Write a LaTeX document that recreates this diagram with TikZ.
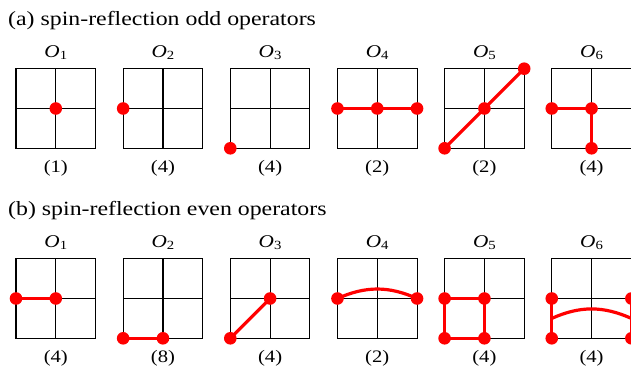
\documentclass[tikz,border=0pt]{standalone}
\usepackage{fontspec}
\setmainfont{Liberation Serif}[FakeStretch=1.18]
\tikzset{
  grid/.style={draw=black,line width=1.1pt},
  redline/.style={draw=red,line width=3.2pt},
  dot/.style={circle,fill=red,draw=none,minimum size=12.6pt,inner sep=0pt},
  title/.style={anchor=base west,inner sep=0pt,font=\fontsize{20.2}{20.2}\selectfont},
  oplabel/.style={anchor=base,inner sep=0pt,font=\fontsize{18}{18}\selectfont},
  count/.style={anchor=base,inner sep=0pt,font=\fontsize{17.5}{17.5}\selectfont}
}
\newcommand{\opname}[1]{\textit{O}\raisebox{-2pt}{\fontsize{12.5}{12.5}\selectfont #1}}
\newcommand{\panel}[5]{% #1 name, #2 x, #3 y, #4 label index, #5 count
  \begin{scope}[shift={(#2,#3)}]
    \draw[grid] (0,0) rectangle (79.6,79.6);
    \draw[grid] (39.8,0) -- (39.8,79.6);
    \draw[grid] (0,39.8) -- (79.6,39.8);
    \coordinate (#1-lb) at (0,0);
    \coordinate (#1-cb) at (39.8,0);
    \coordinate (#1-rb) at (79.6,0);
    \coordinate (#1-lm) at (0,39.8);
    \coordinate (#1-c) at (39.8,39.8);
    \coordinate (#1-rm) at (79.6,39.8);
    \coordinate (#1-rt) at (79.6,79.6);
    \coordinate (#1-ll) at (0,19.9);
    \coordinate (#1-rl) at (79.6,19.9);
    \node[oplabel] (#1-name) at (39.8,91) {\opname{#4}};
    \node[count] (#1-count) at (39.8,-24.7) {(#5)};
  \end{scope}}
\begin{document}
\begin{tikzpicture}[x=1pt,y=1pt]
\clip (0,0) rectangle (631,369);
\node[title] (ta) at (8,343) {(a) spin-reflection odd operators};
\node[title] (tb) at (8,153) {(b) spin-reflection even operators};
% row a
\panel{a1}{16}{220.7}{1}{1}
\panel{a2}{123.15}{220.7}{2}{4}
\panel{a3}{230.3}{220.7}{3}{4}
\panel{a4}{337.45}{220.7}{4}{2}
\panel{a5}{444.6}{220.7}{5}{2}
\panel{a6}{551.75}{220.7}{6}{4}
% row b
\panel{b1}{16}{30.7}{1}{4}
\panel{b2}{123.15}{30.7}{2}{8}
\panel{b3}{230.3}{30.7}{3}{4}
\panel{b4}{337.45}{30.7}{4}{2}
\panel{b5}{444.6}{30.7}{5}{4}
\panel{b6}{551.75}{30.7}{6}{4}
% red connectors, row a
\draw[redline] (a4-lm) -- (a4-c) -- (a4-rm);
\draw[redline] (a5-lb) -- (a5-c) -- (a5-rt);
\draw[redline] (a6-lm) -- (a6-c) -- (a6-cb);
% red connectors, row b
\draw[redline] (b1-lm) -- (b1-c);
\draw[redline] (b2-lb) -- (b2-cb);
\draw[redline] (b3-lb) -- (b3-c);
\draw[redline] (b4-lm) to[bend left=24] (b4-rm);
\draw[redline] (b5-lm) -- (b5-c) -- (b5-cb) -- (b5-lb) -- cycle;
\draw[redline] (b6-lm) -- (b6-lb);
\draw[redline] (b6-rm) -- (b6-rb);
\draw[redline] (b6-ll) to[bend left=24] (b6-rl);
% dots
\node[dot] (a1-d1) at (a1-c) {};
\node[dot] (a2-d1) at (a2-lm) {};
\node[dot] (a3-d1) at (a3-lb) {};
\node[dot] (a4-d1) at (a4-lm) {};
\node[dot] (a4-d2) at (a4-c) {};
\node[dot] (a4-d3) at (a4-rm) {};
\node[dot] (a5-d1) at (a5-lb) {};
\node[dot] (a5-d2) at (a5-c) {};
\node[dot] (a5-d3) at (a5-rt) {};
\node[dot] (a6-d1) at (a6-lm) {};
\node[dot] (a6-d2) at (a6-c) {};
\node[dot] (a6-d3) at (a6-cb) {};
\node[dot] (b1-d1) at (b1-lm) {};
\node[dot] (b1-d2) at (b1-c) {};
\node[dot] (b2-d1) at (b2-lb) {};
\node[dot] (b2-d2) at (b2-cb) {};
\node[dot] (b3-d1) at (b3-lb) {};
\node[dot] (b3-d2) at (b3-c) {};
\node[dot] (b4-d1) at (b4-lm) {};
\node[dot] (b4-d2) at (b4-rm) {};
\node[dot] (b5-d1) at (b5-lm) {};
\node[dot] (b5-d2) at (b5-c) {};
\node[dot] (b5-d3) at (b5-lb) {};
\node[dot] (b5-d4) at (b5-cb) {};
\node[dot] (b6-d1) at (b6-lm) {};
\node[dot] (b6-d2) at (b6-lb) {};
\node[dot] (b6-d3) at (b6-rm) {};
\node[dot] (b6-d4) at (b6-rb) {};
\end{tikzpicture}
\end{document}
